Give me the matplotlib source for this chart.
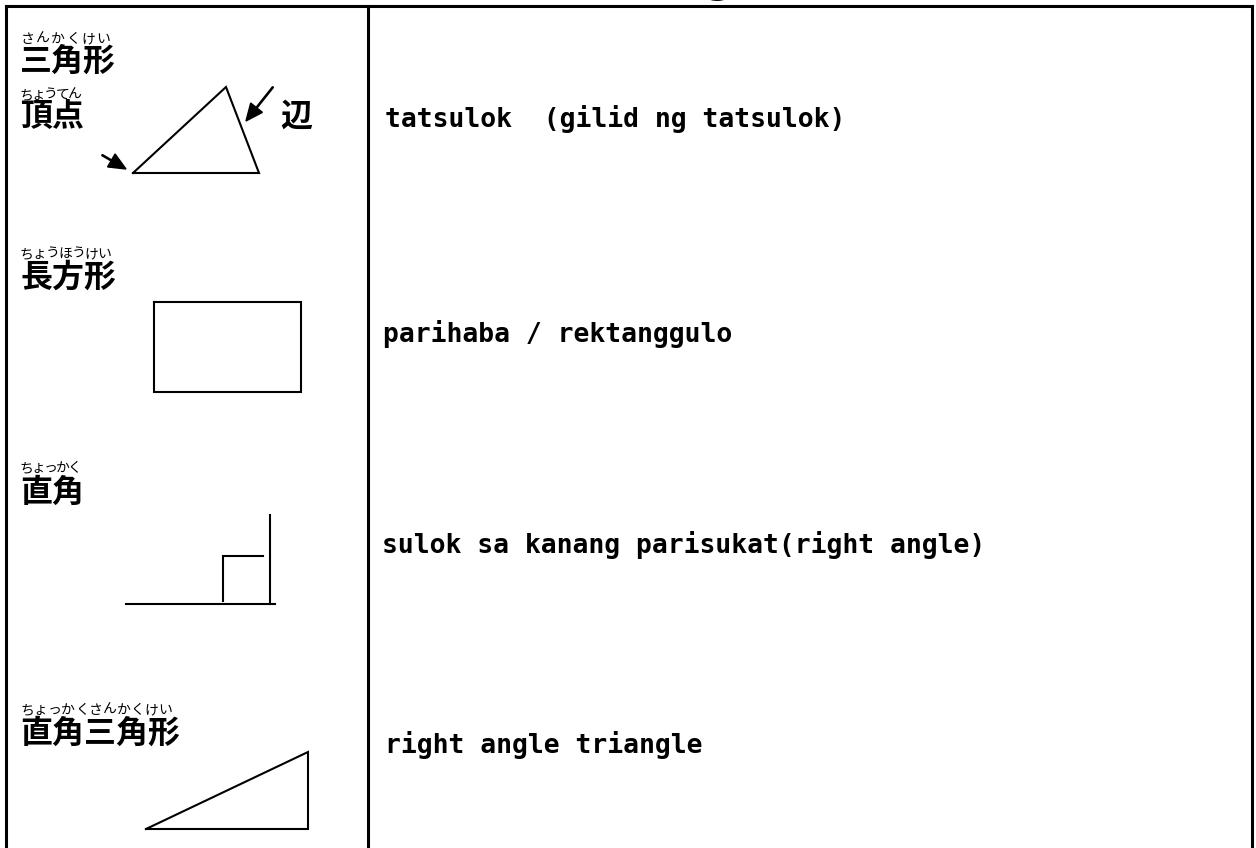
import matplotlib
matplotlib.use("Agg")
import matplotlib.pyplot as plt

# table content
jpWords = ["三角形", "長方形", "直角", "直角三角形"]
jpRuby = ["さんかくけい", "ちょうほうけい", "ちょっかく", "ちょっかくさんかくけい"]
extraWords = ["頂点", "辺"]
extraRuby = ["ちょうてん", ""]
enWords = ["tatsulok  (gilid ng tatsulok)",
           "parihaba / rektanggulo",
           "sulok sa kanang parisukat(right angle)",
           "right angle triangle"]

# shapes (pixel coords of the page)
triX = [133, 226, 259, 133]
triY = [173, 87, 173, 173]
rectX = [154, 301, 301, 154, 154]
rectY = [302, 302, 392, 392, 302]
baseX = [126, 275]
baseY = [604, 604]
wallX = [270, 270]
wallY = [515, 604]
sqX = [223, 223, 263]
sqY = [601, 556, 556]
rtX = [146, 308, 308, 146]
rtY = [829, 752, 829, 829]
# arrows: start and tip
arrowStart = [(102, 155), (273, 87)]
arrowTip = [(126, 169), (246, 121)]

jpFont = ["Noto Sans CJK JP", "DejaVu Sans"]

fig = plt.figure(figsize=(12.56, 8.48), dpi=100)
ax = fig.add_axes([0, 0, 1, 1])
ax.set_xlim(0, 1256)
ax.set_ylim(848, 0)
ax.axis("off")

# frame
lw = 2.2
ax.plot([6, 1252], [6, 6], color="black", lw=lw, solid_capstyle="projecting")
ax.plot([6, 6], [6, 848], color="black", lw=lw)
ax.plot([368, 368], [6, 848], color="black", lw=lw)
ax.plot([1252, 1252], [6, 848], color="black", lw=lw)

# bit of a cut-off title above the table
ax.text(718, -10, "g", fontsize=34, family=jpFont, weight="bold", ha="center", va="baseline")


def ruby(x0, yBase, yRuby, word, kana, size=23):
	t = ax.text(x0, yBase, word, fontsize=size, family=jpFont, weight="bold", ha="left", va="center")
	width = len(word) * size * 100 / 72 * 0.95
	n = len(kana)
	for k, ch in enumerate(kana):
		ax.text(x0 + width * (k + 0.5) / n, yRuby, ch, fontsize=10, family=jpFont,
				ha="center", va="center")
	return t


rowY = [62, 278, 493, 734]
rubyY = [39, 254, 468, 710]
for i in range(4):
	ruby(20, rowY[i], rubyY[i], jpWords[i], jpRuby[i])
ruby(20, 117, 95, extraWords[0], extraRuby[0])
ax.text(280, 117, extraWords[1], fontsize=23, family=jpFont, weight="bold", ha="left", va="center")

# english column
textY = [127, 342, 553, 753]
textX = [385, 383, 382, 385]
for i in range(4):
	ax.text(textX[i], textY[i], enWords[i], fontsize=19, family="DejaVu Sans Mono",
			weight="bold", ha="left", va="baseline")

# shapes
sw = 1.5
ax.plot(triX, triY, color="black", lw=sw, solid_joinstyle="miter")
ax.plot(rectX, rectY, color="black", lw=sw, solid_joinstyle="miter")
ax.plot(baseX, baseY, color="black", lw=sw)
ax.plot(wallX, wallY, color="black", lw=sw)
ax.plot(sqX, sqY, color="black", lw=sw, solid_joinstyle="miter")
ax.plot(rtX, rtY, color="black", lw=sw, solid_joinstyle="miter")

for (x0, y0), (x1, y1) in zip(arrowStart, arrowTip):
	ax.arrow(x0, y0, x1 - x0, y1 - y0, width=1.2, head_width=15, head_length=17,
			 length_includes_head=True, color="black")

plt.savefig("out.png", dpi=100)
